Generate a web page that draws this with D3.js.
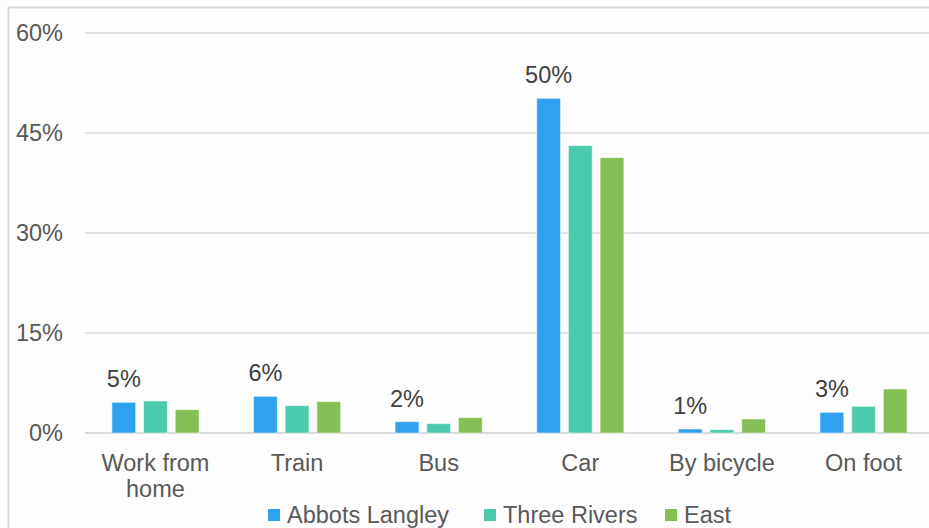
<!DOCTYPE html>
<html lang="en">
<head>
<meta charset="UTF-8">
<title>Travel to work</title>
<script src="https://cdn.jsdelivr.net/npm/d3@7"></script>
<style>
  body { margin: 0; background: #fff; }
  text { font-family: "Liberation Sans", Arial, sans-serif; }
</style>
</head>
<body>
<script>
// categories and series (share of people, %)
var categories = ["Work from home", "Train", "Bus", "Car", "By bicycle", "On foot"];
var seriesNames = ["Abbots Langley", "Three Rivers", "East"];
var abbotsLangley = [4.6, 5.5, 1.7, 50.2, 0.6, 3.1];
var threeRivers = [4.8, 4.1, 1.4, 43.1, 0.5, 4.0];
var east = [3.5, 4.7, 2.3, 41.3, 2.1, 6.6];
var yTicks = [0, 15, 30, 45, 60];

var colors = ["#2ea2ee", "#4bcaad", "#84c056"];
var width = 929, height = 528;
var fontSize = "23.5px";

var svg = d3.select("body").append("svg")
    .attr("width", width)
    .attr("height", height);

svg.append("rect").attr("width", width).attr("height", height).attr("fill", "#fdfdfd");
// chart frame (cut off at right and bottom)
svg.append("path")
    .attr("d", "M8.5," + height + "V7.5H" + width)
    .attr("fill", "none").attr("stroke", "#d9d9d9").attr("stroke-width", 2);

var x0 = d3.scaleBand().domain(categories).range([85, 934]).paddingInner(0.385).paddingOuter(0.19);
var x1 = d3.scaleBand().domain(seriesNames).range([0, x0.bandwidth()]).paddingInner(0.25);
var y = d3.scaleLinear().domain([0, 60]).range([433, 33]);
var color = d3.scaleOrdinal().domain(seriesNames).range(colors);

// gridlines
svg.append("g").selectAll("line").data(yTicks).enter().append("line")
    .attr("x1", 85).attr("x2", width)
    .attr("y1", function(d) { return y(d); })
    .attr("y2", function(d) { return y(d); })
    .attr("stroke", "#d9d9d9")
    .attr("stroke-width", function(d) { return d === 0 ? 2 : 1.5; });

// y tick labels
svg.append("g").selectAll("text").data(yTicks).enter().append("text")
    .attr("x", 63)
    .attr("y", function(d) { return y(d); })
    .attr("dy", "0.36em")
    .attr("text-anchor", "end")
    .attr("font-size", fontSize)
    .attr("fill", "#595959")
    .text(function(d) { return d + "%"; });

var rows = categories.map(function(c, i) {
    return { cat: c, vals: [abbotsLangley[i], threeRivers[i], east[i]] };
});

var groups = svg.append("g").selectAll("g").data(rows).enter().append("g")
    .attr("transform", function(d) { return "translate(" + x0(d.cat) + ",0)"; });

groups.selectAll("rect")
    .data(function(d) { return d.vals.map(function(v, j) { return { name: seriesNames[j], v: v }; }); })
    .enter().append("rect")
    .attr("x", function(d) { return x1(d.name); })
    .attr("y", function(d) { return y(d.v); })
    .attr("width", x1.bandwidth())
    .attr("height", function(d) { return y(0) - y(d.v); })
    .attr("fill", function(d) { return color(d.name); })
    .attr("stroke", "#fff").attr("stroke-opacity", 0.5).attr("stroke-width", 1);

// data labels on the first series
groups.append("text")
    .attr("x", x1(seriesNames[0]) + x1.bandwidth() / 2)
    .attr("y", function(d) { return y(d.vals[0]) - 15; })
    .attr("text-anchor", "middle")
    .attr("font-size", fontSize)
    .attr("fill", "#404040")
    .text(function(d) { return Math.round(d.vals[0]) + "%"; });

// x labels (wrapped)
var xl = svg.append("g").selectAll("text").data(categories).enter().append("text")
    .attr("x", function(d) { return x0(d) + x0.bandwidth() / 2; })
    .attr("y", 471)
    .attr("text-anchor", "middle")
    .attr("font-size", fontSize)
    .attr("fill", "#595959");
xl.each(function(d) {
    var lines = d === "Work from home" ? ["Work from", "home"] : [d];
    var t = d3.select(this);
    lines.forEach(function(l, k) {
        t.append("tspan").attr("x", t.attr("x")).attr("dy", k ? 26 : 0).text(l);
    });
});

// legend
var legendX = [268, 484, 665];
var legend = svg.append("g").selectAll("g").data(seriesNames).enter().append("g")
    .attr("transform", function(d, i) { return "translate(" + legendX[i] + ",509)"; });
legend.append("rect").attr("width", 12).attr("height", 12)
    .attr("fill", function(d) { return color(d); });
legend.append("text").attr("x", 19).attr("y", 14)
    .attr("font-size", fontSize).attr("fill", "#595959")
    .text(function(d) { return d; });
</script>
</body>
</html>
